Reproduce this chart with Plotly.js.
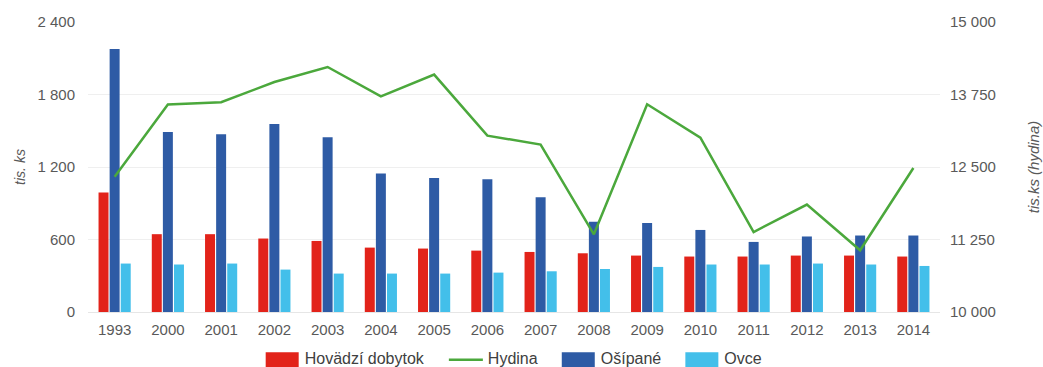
<!DOCTYPE html>
<html><head><meta charset="utf-8">
<script src="https://cdn.plot.ly/plotly-3.0.1.min.js"></script>
<style>html,body{margin:0;padding:0;background:#fff}#c{width:1043px;height:367px}</style>
</head><body><div id="c"></div>
<script>
const years = ['1993','2000','2001','2002','2003','2004','2005','2006','2007','2008','2009','2010','2011','2012','2013','2014'];
const hovadzi = [990, 644, 644, 608, 588, 533, 525, 508, 497, 486, 467, 459, 459, 467, 467, 459];
const osipane = [2176, 1489, 1472, 1555, 1447, 1146, 1110, 1099, 950, 746, 737, 679, 580, 625, 633, 633];
const ovce = [401, 393, 401, 351, 318, 318, 318, 326, 337, 356, 373, 393, 393, 401, 393, 381];
const hydina = [12330, 13576, 13616, 13966, 14224, 13719, 14093, 13041, 12886, 11340, 13581, 13007, 11379, 11852, 11064, 12483];

const font = {family: 'Liberation Sans, Arial, sans-serif', size: 15, color: '#595959'};
const traces = [
  {type:'bar', name:'Hovädzí dobytok', x:years, y:hovadzi, marker:{color:'#e2231a'}},
  {type:'scatter', mode:'lines', name:'Hydina', x:years, y:hydina, yaxis:'y2', line:{color:'#4ba83c', width:2.5}},
  {type:'bar', name:'Ošípané', x:years, y:osipane, marker:{color:'#2e5ba5'}},
  {type:'bar', name:'Ovce', x:years, y:ovce, marker:{color:'#43bfea'}}
];
const layout = {
  width:1043, height:367,
  margin:{l:88, r:103, t:22, b:55, autoexpand:false},
  font: font,
  separators: ', ',
  barmode:'group', bargap:0.375, bargroupgap:0.1,
  showlegend:true,
  legend:{orientation:'h', x:0.492, xanchor:'center', y:-0.1, yanchor:'top', itemwidth:48,
    font:{family:font.family, size:16, color:'#404040'}, traceorder:'normal'},
  xaxis:{type:'category', tickfont:{size:15}, ticks:'outside', ticklen:4, tickcolor:'rgba(0,0,0,0)', showline:false, fixedrange:true, automargin:false},
  yaxis:{range:[0,2400], tickvals:[0,600,1200,1800,2400], tickformat:',d', gridcolor:'#efefef', zerolinecolor:'#e6e6e6', zerolinewidth:1,
    ticks:'outside', ticklen:9, tickcolor:'rgba(0,0,0,0)', automargin:false,
    title:{text:'tis. ks', font:{size:14, color:'#595959'}, standoff:8}},
  yaxis2:{range:[10000,15000], tickvals:[10000,11250,12500,13750,15000], tickformat:',d', overlaying:'y', side:'right', showgrid:false, zeroline:false,
    ticks:'outside', ticklen:6, tickcolor:'rgba(0,0,0,0)', automargin:false,
    title:{text:'tis.ks (hydina)', font:{size:15, color:'#595959'}, standoff:33}}
};
function fixLegend(){
  document.querySelectorAll('.legend [clip-path]').forEach(e=>e.removeAttribute('clip-path'));
  document.querySelectorAll('.legend .scrollbar').forEach(e=>e.style.display='none');
  document.querySelectorAll('.legend .traces').forEach(g=>{
    const txt = g.querySelector('text.legendtext');
    if(!txt) return;
    const tr = txt.getBoundingClientRect();
    const tl = tr.left, tcy = (tr.top + tr.bottom)/2 + 1;
    g.querySelectorAll('.layers path').forEach(p=>{
      const r = p.getBoundingClientRect();
      if(r.width === 0 && r.height === 0) return;
      const m = p.getScreenCTM();
      const lx = v => (v - m.e)/m.a, ly = v => (v - m.f)/m.d;
      if(r.height < 4){
        const x0 = lx(tl - 5 - 34), x1 = lx(tl - 5), y = ly(tcy);
        p.setAttribute('d', `M${x0},${y}H${x1}`);
      } else {
        const x0 = lx(tl - 6 - 33), x1 = lx(tl - 6), y0 = ly(tcy - 7.5), y1 = ly(tcy + 7.5);
        p.setAttribute('d', `M${x0},${y0}H${x1}V${y1}H${x0}Z`);
      }
    });
  });
}
Plotly.newPlot('c', traces, layout, {displayModeBar:false, staticPlot:true}).then(()=>{
  document.querySelectorAll('.g-ytitle text, .g-y2title text').forEach(t=>{t.setAttribute('font-style','italic'); t.style.fontStyle='italic';});
  fixLegend();
});
</script></body></html>
